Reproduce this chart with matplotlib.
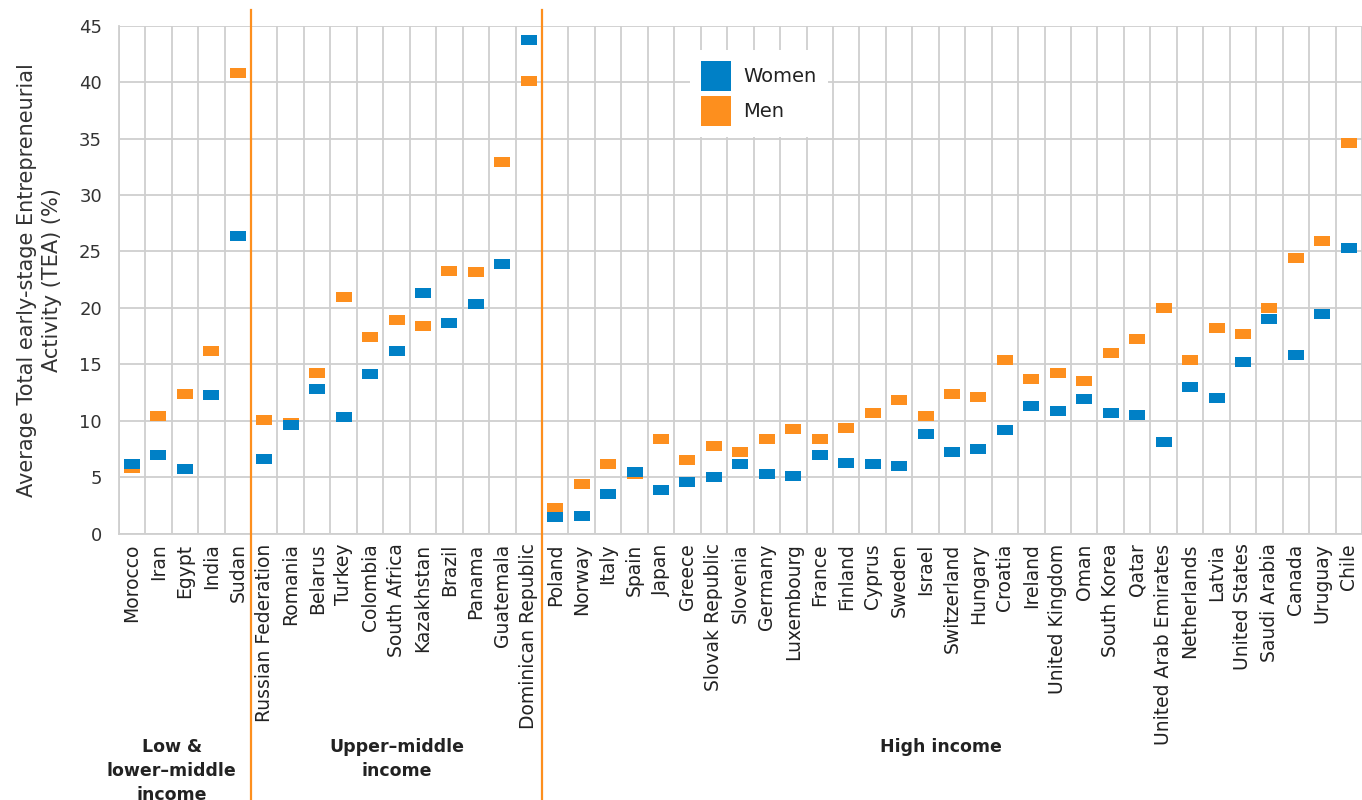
import numpy as np
import matplotlib.pyplot as plt
from matplotlib.path import Path
from matplotlib.patches import Patch
from matplotlib.lines import Line2D
from matplotlib.transforms import blended_transform_factory

countries = ['Morocco', 'Iran', 'Egypt', 'India', 'Sudan',
             'Russian Federation', 'Romania', 'Belarus', 'Turkey', 'Colombia', 'South Africa',
             'Kazakhstan', 'Brazil', 'Panama', 'Guatemala', 'Dominican Republic',
             'Poland', 'Norway', 'Italy', 'Spain', 'Japan', 'Greece', 'Slovak Republic', 'Slovenia',
             'Germany', 'Luxembourg', 'France', 'Finland', 'Cyprus', 'Sweden', 'Israel', 'Switzerland',
             'Hungary', 'Croatia', 'Ireland', 'United Kingdom', 'Oman', 'South Korea', 'Qatar',
             'United Arab Emirates', 'Netherlands', 'Latvia', 'United States', 'Saudi Arabia',
             'Canada', 'Uruguay', 'Chile']

women = [6.2, 7.0, 5.7, 12.3, 26.4,
         6.6, 9.6, 12.8, 10.3, 14.1, 16.2, 21.3, 18.7, 20.3, 23.9, 43.7,
         1.5, 1.6, 3.5, 5.5, 3.9, 4.6, 5.0, 6.2, 5.3, 5.1, 7.0, 6.3, 6.2, 6.0, 8.8, 7.2,
         7.5, 9.2, 11.3, 10.9, 11.9, 10.7, 10.5, 8.1, 13.0, 12.0, 15.2, 19.0, 15.8, 19.5, 25.3]

men = [5.8, 10.4, 12.4, 16.2, 40.8,
       10.1, 9.8, 14.2, 21.0, 17.4, 18.9, 18.4, 23.3, 23.2, 32.9, 40.1,
       2.3, 4.4, 6.2, 5.3, 8.4, 6.5, 7.8, 7.2, 8.4, 9.3, 8.4, 9.4, 10.7, 11.8, 10.4, 12.4,
       12.1, 15.4, 13.7, 14.2, 13.5, 16.0, 17.2, 20.0, 15.4, 18.2, 17.7, 20.0, 24.4, 25.9, 34.6]

group_names = ['Low &\nlower\u2013middle\nincome', 'Upper\u2013middle\nincome', 'High income']
group_sizes = [5, 11, 31]

BLUE = '#0080c6'
ORANGE = '#fd8f1e'
GRID = '#cfcfcf'


def main():
    fig = plt.figure(figsize=(13.62, 8.0), dpi=100)
    ax = fig.add_axes([0.0872, 0.3329, 0.9128, 0.6351])

    x = np.arange(len(countries))

    # wide flat rectangle marker
    rect = Path([(-1, -0.66), (1, -0.66), (1, 0.66), (-1, 0.66), (-1, -0.66)])
    ax.plot(x, men, linestyle='none', marker=rect, markersize=11.6, color=ORANGE, markeredgewidth=0, zorder=3)
    ax.plot(x, women, linestyle='none', marker=rect, markersize=11.6, color=BLUE, markeredgewidth=0, zorder=4)

    ax.set_xlim(-0.5, 46.24)
    ax.set_ylim(0, 45)
    ax.set_yticks(np.arange(0, 46, 5))
    ax.set_xticks(x)
    ax.set_xticklabels(countries, rotation=90, fontsize=13.5, color='#222222')
    ax.set_xticks(np.arange(-0.5, len(countries), 1), minor=True)
    ax.tick_params(axis='both', which='both', length=0)
    ax.tick_params(axis='x', pad=7)
    ax.tick_params(axis='y', labelsize=13, labelcolor='#333333', pad=12)

    ax.grid(axis='y', which='major', color=GRID, linewidth=1.3, zorder=0)
    ax.grid(axis='x', which='minor', color=GRID, linewidth=1.3, zorder=0)
    ax.set_axisbelow(True)
    for side in ['top', 'right']:
        ax.spines[side].set_visible(False)
    for side in ['left', 'bottom']:
        ax.spines[side].set_color(GRID)
        ax.spines[side].set_linewidth(1.3)

    ax.set_ylabel('Average Total early-stage Entrepreneurial\nActivity (TEA) (%)',
                  fontsize=15, color='#333333', labelpad=12, linespacing=1.35)

    # group separators and labels
    trans = blended_transform_factory(ax.transData, fig.transFigure)
    bounds = np.cumsum(group_sizes)
    for b in bounds[:-1]:
        fig.add_artist(Line2D([b - 0.5, b - 0.5], [0, 0.9875], transform=trans,
                              color=ORANGE, linewidth=1.6, clip_on=False, zorder=5))
    label_x = [1.5, 10.0, 30.6]
    for name, lx in zip(group_names, label_x):
        fig.text(lx, 0.077, name, transform=trans, ha='center', va='top',
                 fontsize=12.5, fontweight='bold', color='#222222', linespacing=1.4)

    handles = [Patch(facecolor=BLUE, edgecolor='none', label='Women'),
               Patch(facecolor=ORANGE, edgecolor='none', label='Men')]
    leg = ax.legend(handles=handles, loc='upper left', bbox_to_anchor=(0.4595, 0.952),
                    borderaxespad=0, fontsize=14, frameon=True, fancybox=False,
                    handlelength=1.55, handleheight=2.0, labelspacing=0.26,
                    handletextpad=0.62, borderpad=0.57)
    leg.get_frame().set_facecolor('white')
    leg.get_frame().set_edgecolor('none')
    leg.get_frame().set_alpha(1)
    for t in leg.get_texts():
        t.set_color('#222222')
    leg.set_zorder(6)

    fig.savefig('out.png', dpi=100)


if __name__ == "__main__":
    main()
